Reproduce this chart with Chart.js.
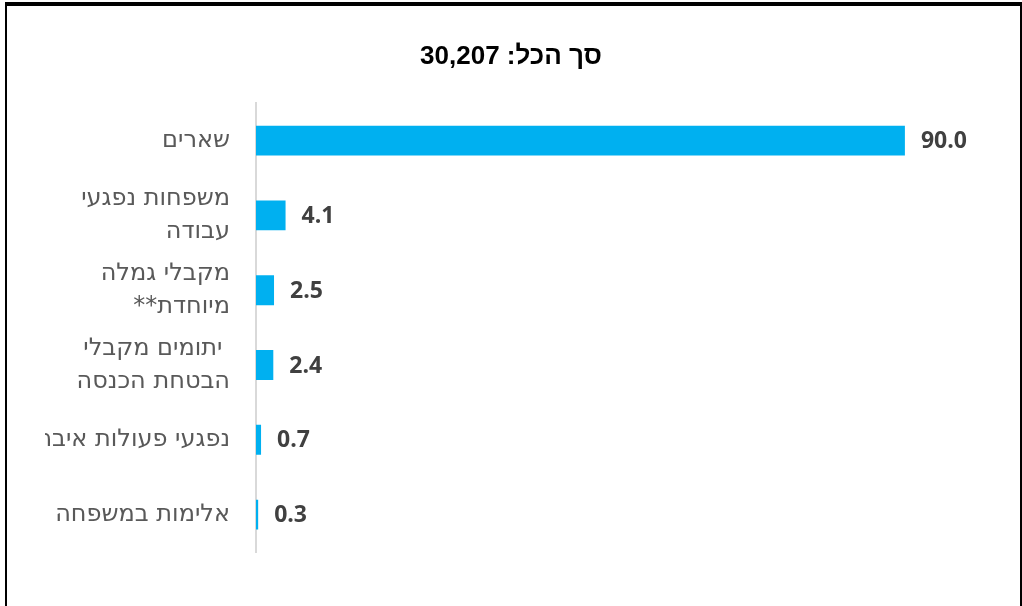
<!DOCTYPE html>
<html lang="he">
<head>
<meta charset="utf-8">
<title>סך הכל: 30,207</title>
<script src="https://cdn.jsdelivr.net/npm/chart.js@4/dist/chart.umd.min.js"></script>
<style>
  html, body { margin: 0; padding: 0; background: #fff; }
  #wrap { position: relative; width: 1022px; height: 606px; overflow: hidden; }
  #chart { position: absolute; left: 0; top: 0; }
  #frame {
    position: absolute; left: 5px; top: 2px; width: 1013px; height: 640px;
    border-top: 4px solid #000; border-left: 2px solid #000; border-right: 2px solid #000;
    pointer-events: none;
  }
</style>
</head>
<body>
<div id="wrap">
  <canvas id="chart" dir="rtl" width="1022" height="606"></canvas>
  <div id="frame"></div>
</div>
<script>
const titleText = "סך הכל: 30,207";
const categories = [
  ["שארים"],
  ["משפחות נפגעי", "עבודה"],
  ["מקבלי גמלה", "מיוחדת**"],
  [" יתומים מקבלי", "הבטחת הכנסה"],
  ["נפגעי פעולות איבה"],
  ["אלימות במשפחה"],
];
const shares = [90.0, 4.1, 2.5, 2.4, 0.7, 0.3];

const BAR_COLOR = "#00B0F0";
const VALUE_FONT = "'Open Sans', 'DejaVu Sans', sans-serif";
const TICK_FONT = "'DejaVu Sans', 'Open Sans', sans-serif";

// value labels just past the end of each bar
const valueLabels = {
  id: "valueLabels",
  afterDatasetsDraw(chart) {
    const ctx = chart.ctx;
    const meta = chart.getDatasetMeta(0);
    ctx.save();
    ctx.font = `bold 23px ${VALUE_FONT}`;
    ctx.fillStyle = "#404040";
    ctx.textAlign = "left";
    ctx.textBaseline = "middle";
    meta.data.forEach((bar, i) => {
      ctx.fillText(shares[i].toFixed(1), bar.x + 16, bar.y + 1);
    });
    ctx.restore();
  },
};

new Chart(document.getElementById("chart"), {
  type: "bar",
  data: {
    labels: categories,
    datasets: [{
      data: shares,
      backgroundColor: BAR_COLOR,
      borderWidth: 0,
      categoryPercentage: 1,
      barPercentage: 0.4,
    }],
  },
  options: {
    indexAxis: "y",
    responsive: false,
    animation: false,
    layout: { padding: { left: 45, right: 45, top: 0, bottom: 54 } },
    plugins: {
      legend: { display: false },
      tooltip: { enabled: false },
      title: {
        display: true,
        text: titleText,
        color: "#000",
        font: { family: "'Liberation Sans', Arial, sans-serif", size: 26, weight: "bold", lineHeight: 1.2 },
        padding: { top: 41, bottom: 31 },
      },
    },
    scales: {
      x: { display: false, min: 0, max: 100 },
      y: {
        afterFit(scale) { scale.width = 211; },
        grid: { display: false, drawTicks: false },
        border: { display: true, color: "#d9d9d9", width: 2 },
        ticks: {
          color: "#595959",
          padding: 26,
          font: { family: TICK_FONT, size: 24, lineHeight: 1.38 },
        },
      },
    },
  },
  plugins: [valueLabels],
});
</script>
</body>
</html>
